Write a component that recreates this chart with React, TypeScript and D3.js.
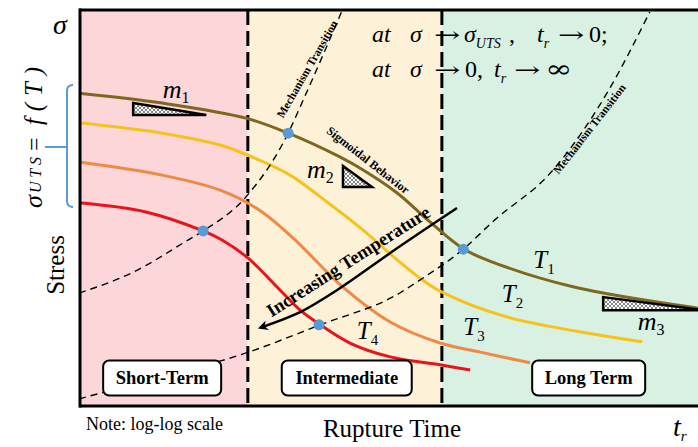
import React from 'react';
import * as d3 from 'd3';

// ---- data (log time units 0..10, log stress units 0..10) ----
const regionEdges = [0, 2.68, 5.76, 10.2];
const regionNames = ['Short-Term', 'Intermediate', 'Long Term'];
const regionColors = ['#fcd6d9', '#fdf1d8', '#d9f1e3'];
const boxCenters = [1.32, 4.25, 8.09];
const boxWidths = [118, 130, 113];
const boxLevel = 0.72;

const curveT1: [number, number][] = [[0, 7.9], [1.32, 7.65], [2.65, 7.27], [3.32, 6.89], [4.14, 6.29], [4.51, 5.96], [5.05, 5.38], [5.57, 4.65], [6.1, 3.97], [6.52, 3.66], [7.84, 3.01], [9.83, 2.47], [10.1, 2.42]];
const curveT2: [number, number][] = [[0, 7.15], [1.32, 6.89], [2.24, 6.59], [2.86, 6.21], [3.35, 5.83], [3.98, 5.1], [4.51, 4.44], [5.05, 3.69], [5.41, 3.23], [5.73, 2.9], [6.79, 2.25], [8.94, 1.62]];
const curveT3: [number, number][] = [[0, 6.16], [1.32, 5.83], [2.24, 5.45], [2.86, 4.95], [3.4, 4.24], [4.19, 3.0], [4.94, 2.12], [5.73, 1.59], [6.37, 1.36], [7.16, 1.09]];
const curveT4: [number, number][] = [[0, 5.13], [1.06, 4.9], [1.97, 4.42], [2.27, 4.19], [2.68, 3.74], [3.19, 2.93], [3.51, 2.42], [3.83, 2.05], [4.3, 1.59], [4.94, 1.24], [5.73, 1.04], [6.21, 0.91]];
const curves = [curveT1, curveT2, curveT3, curveT4];
const curveColors = ['#7e6820', '#f5c31c', '#ee8a45', '#e8141c'];
const curveNames = ['1', '2', '3', '4'];
const curveLabelPos: [number, number][] = [[7.21, 3.48], [6.71, 2.63], [6.1, 1.79], [4.41, 1.69]];

const transitionA: [number, number][] = [[0, 2.85], [0.86, 3.38], [1.73, 4.19], [1.97, 4.42], [2.65, 5.28], [3.32, 6.89], [3.56, 7.73], [4.18, 10.0]];
const transitionB: [number, number][] = [[0, 0.18], [1.29, 0.73], [2.56, 1.29], [3.83, 2.05], [5.1, 2.86], [5.41, 3.18], [6.1, 3.96], [6.6, 4.7], [7.48, 5.88], [8.38, 7.9], [9.06, 9.95]];
const transitionPoints: [number, number][] = [[3.32, 6.89], [1.97, 4.42], [3.81, 2.05], [6.1, 3.96]];

const tempArrow: [number, number][] = [[6.0, 5.0], [5.1, 4.04], [4.1, 2.93], [3.51, 2.37], [2.9, 1.99]];

// slope triangles: [xLeft, xRight, yTop, yBottom]
const slopeTriangles: [number, number, number, number][] = [[0.86, 2.02, 7.65, 7.35], [4.19, 4.65, 6.06, 5.53], [8.32, 9.92, 2.75, 2.42]];
const slopeNames = ['1', '2', '3'];
const slopeLabelPos: [number, number][] = [[1.33, 7.78], [3.62, 5.76], [8.87, 1.92]];

const W = 698, H = 447;
const serif = "'Liberation Serif','Times New Roman',serif";
const symFont = "'DejaVu Serif',serif";

export default function App() {
  const x = d3.scaleLinear().domain([0, 10]).range([79, 709]);
  const y = d3.scaleLinear().domain([0, 10]).range([406, 10]);
  const line = d3.line<[number, number]>().x(d => x(d[0])).y(d => y(d[1])).curve(d3.curveCatmullRom.alpha(0.5));
  const dashLine = d3.line<[number, number]>().x(d => x(d[0])).y(d => y(d[1])).curve(d3.curveMonotoneX);
  const arrowLine = d3.line<[number, number]>().x(d => x(d[0])).y(d => y(d[1])).curve(d3.curveCatmullRom);

  const top = y(10), bottom = y(0), left = x(0);

  const arrow = (ax: number, ay: number, key: string) => (
    <text key={key} transform={`translate(${ax},${ay}) scale(1.5,1)`} fontFamily={symFont} fontSize={21}>→</text>
  );

  return (
    <svg width={W} height={H} style={{ position: 'absolute', left: 0, top: 0, background: '#fff' }} fontFamily={serif}>
      <defs>
        <clipPath id="plot"><rect x={left} y={top} width={W - left} height={bottom - top} /></clipPath>
        <pattern id="hatch" width={4} height={4} patternUnits="userSpaceOnUse">
          <rect width={4} height={4} fill="#fff" />
          <path d="M0,0 L4,4 M4,0 L0,4" stroke="#666" strokeWidth={0.8} />
        </pattern>
        <marker id="ah" viewBox="0 0 10 10" refX={6} refY={5} markerWidth={4} markerHeight={4} orient="auto">
          <path d="M0,0 L10,5 L0,10 L3,5 Z" fill="#000" />
        </marker>
      </defs>

      <g clipPath="url(#plot)">
        {regionNames.map((n, i) => (
          <rect key={n} x={x(regionEdges[i])} y={top} width={x(regionEdges[i + 1]) - x(regionEdges[i])} height={bottom - top} fill={regionColors[i]} />
        ))}
        {[regionEdges[1], regionEdges[2]].map((e, i) => (
          <line key={i} x1={x(e)} x2={x(e)} y1={top} y2={bottom} stroke="#000" strokeWidth={3} strokeDasharray="15 6" />
        ))}
        {curves.map((c, i) => (
          <path key={i} d={line(c) || ''} fill="none" stroke={curveColors[i]} strokeWidth={3} />
        ))}
        <path d={dashLine(transitionA) || ''} fill="none" stroke="#000" strokeWidth={1.4} strokeDasharray="7 5" />
        <path d={dashLine(transitionB) || ''} fill="none" stroke="#000" strokeWidth={1.4} strokeDasharray="7 5" />
        {transitionPoints.map((p, i) => (
          <circle key={i} cx={x(p[0])} cy={y(p[1])} r={5.5} fill="#5b9bd5" />
        ))}
        {slopeTriangles.map((t, i) => (
          <path key={i} d={`M${x(t[0])},${y(t[2])} L${x(t[0])},${y(t[3])} L${x(t[1])},${y(t[3])} Z`} fill="url(#hatch)" stroke="#000" strokeWidth={2.5} strokeLinejoin="miter" />
        ))}
        <path d={arrowLine(tempArrow) || ''} fill="none" stroke="#000" strokeWidth={2.5} markerEnd="url(#ah)" />
      </g>

      {/* frame */}
      <line x1={left} x2={W} y1={top} y2={top} stroke="#000" strokeWidth={3} />
      <line x1={left + 1} x2={left + 1} y1={top - 1.5} y2={bottom + 1.5} stroke="#000" strokeWidth={3} />
      <line x1={left} x2={W} y1={bottom} y2={bottom} stroke="#000" strokeWidth={3} />

      {/* region boxes */}
      {regionNames.map((n, i) => (
        <g key={n}>
          <rect x={x(boxCenters[i]) - boxWidths[i] / 2} y={y(boxLevel) - 17} width={boxWidths[i]} height={35} rx={6} fill="#fff" stroke="#000" strokeWidth={2} />
          <text x={x(boxCenters[i])} y={y(boxLevel) + 7} textAnchor="middle" fontWeight="bold" fontSize={18.5}>{n}</text>
        </g>
      ))}

      {/* curve labels */}
      {curveNames.map((n, i) => (
        <text key={n} x={x(curveLabelPos[i][0])} y={y(curveLabelPos[i][1])} fontSize={25} fontStyle="italic">
          T<tspan fontSize={15} fontStyle="normal" dy={6}>{n}</tspan>
        </text>
      ))}
      {slopeNames.map((n, i) => (
        <text key={n} x={x(slopeLabelPos[i][0])} y={y(slopeLabelPos[i][1])} fontSize={26} fontStyle="italic">
          m<tspan fontSize={16} fontStyle="normal" dy={5}>{n}</tspan>
        </text>
      ))}

      {/* rotated annotations */}
      <text transform={`translate(${x(3.62)},${y(8.51)}) rotate(-60)`} textAnchor="middle" dy="0.35em" fontSize={11.5} fontWeight="bold">Mechanism Transition</text>
      <text transform={`translate(${x(8.1)},${y(7.0)}) rotate(-52)`} textAnchor="middle" dy="0.35em" fontSize={11.5} fontWeight="bold">Mechanism Transition</text>
      <text transform={`translate(${x(4.59)},${y(6.21)}) rotate(38)`} textAnchor="middle" dy="0.35em" fontSize={12} fontWeight="bold">Sigmoidal Behavior</text>
      <text transform={`translate(${x(4.27)},${y(3.66)}) rotate(-32.5)`} textAnchor="middle" dy="0.35em" fontSize={18.5} fontWeight="bold">Increasing Temperature</text>

      {/* top equations */}
      <g fontSize={24}>
        <text x={372} y={42} fontStyle="italic">at</text>
        <text x={410} y={42} fontStyle="italic">σ</text>
        {arrow(434, 42, 'a1')}
        <text x={464} y={42} fontStyle="italic">σ<tspan fontSize={14} dy={6}>UTS</tspan></text>
        <text x={509} y={42}>,</text>
        <text x={537} y={42} fontStyle="italic">t<tspan fontSize={14} dy={6}>r</tspan></text>
        {arrow(558, 42, 'a2')}
        <text x={589} y={42}>0;</text>

        <text x={372} y={77} fontStyle="italic">at</text>
        <text x={410} y={77} fontStyle="italic">σ</text>
        {arrow(434, 77, 'a3')}
        <text x={465} y={77}>0,</text>
        <text x={494} y={77} fontStyle="italic">t<tspan fontSize={14} dy={6}>r</tspan></text>
        {arrow(514, 77, 'a4')}
        <text transform="translate(545,77) scale(1.35,1)" fontFamily={symFont} fontSize={24}>∞</text>
      </g>

      {/* left axis annotations */}
      <text x={53} y={34} fontSize={28} fontStyle="italic">σ</text>
      <g transform="translate(42,208) rotate(-90)">
        <text x={0} y={0} fontSize={26} fontStyle="italic">σ</text>
        <text x={15} y={-1} fontSize={16} fontStyle="italic" textLength={36} lengthAdjust="spacing">UTS</text>
        <text x={57} y={0} fontSize={24}>=</text>
        <text x={83} y={0} fontSize={25} fontStyle="italic" textLength={58} lengthAdjust="spacing">f(T)</text>
      </g>
      <path d="M73,85 Q67,85 67,91 L67,201 Q67,207 73,207 M45,147 L67,147" fill="none" stroke="#5b9bd5" strokeWidth={2} />
      <text transform="translate(64,265) rotate(-90)" textAnchor="middle" fontSize={25}>Stress</text>

      {/* bottom */}
      <text x={86} y={430} fontSize={18}>Note: log-log scale</text>
      <text x={392} y={437} textAnchor="middle" fontSize={25}>Rupture Time</text>
      <text x={673} y={436} fontSize={28} fontStyle="italic">t<tspan fontSize={15} dy={5}>r</tspan></text>
    </svg>
  );
}
